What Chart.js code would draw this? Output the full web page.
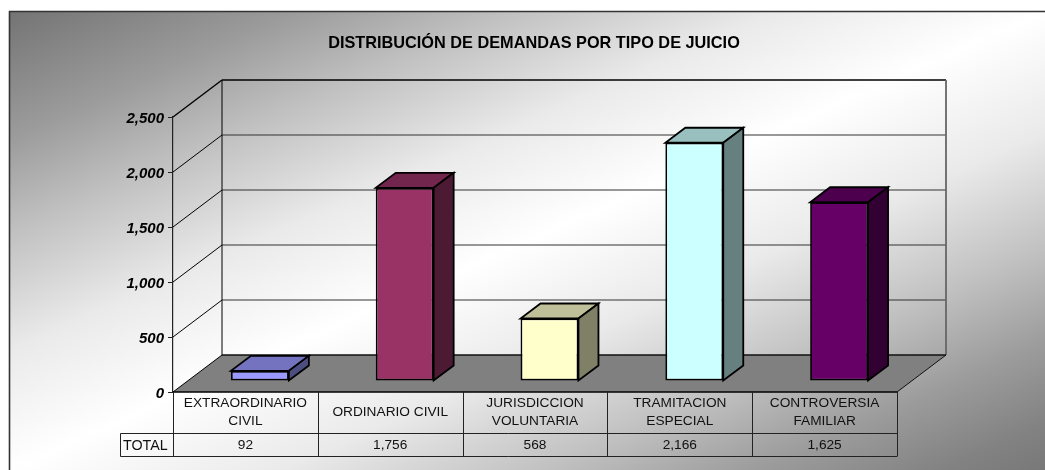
<!DOCTYPE html>
<html><head><meta charset="utf-8">
<style>html,body{margin:0;padding:0;background:#fff}canvas{display:block}</style>
<script src="https://cdn.jsdelivr.net/npm/chart.js@4/dist/chart.umd.min.js"></script>
</head><body><canvas id="c" width="1045" height="470"></canvas>
<script>
const categories = [["EXTRAORDINARIO","CIVIL"],"ORDINARIO CIVIL",["JURISDICCION","VOLUNTARIA"],["TRAMITACION","ESPECIAL"],["CONTROVERSIA","FAMILIAR"]];
const totals = [92,1756,568,2166,1625];
const seriesName = "TOTAL";
const titleText = "DISTRIBUCIÓN DE DEMANDAS POR TIPO DE JUICIO";
const barColors = ["#9999FF","#993366","#FFFFCC","#CCFFFF","#660066"];

const fmt = v => Number(v).toLocaleString('en-US');
const shade = (hex,f) => {
  const n = parseInt(hex.slice(1),16);
  return `rgb(${Math.round((n>>16&255)*f)},${Math.round((n>>8&255)*f)},${Math.round((n&255)*f)})`;
};
const WALL_DX = 49, WALL_DY = -37;   // depth of the box
const BAR_DX = 14.5, BAR_DY = -11;   // bars stand in the middle of the floor
const FACE_DX = 20, FACE_DY = -15;   // depth of a bar
const line = (ctx,pts,color,w) => {
  ctx.beginPath(); pts.forEach((p,i)=> i?ctx.lineTo(p[0],p[1]):ctx.moveTo(p[0],p[1]));
  ctx.strokeStyle=color; ctx.lineWidth=w; ctx.stroke();
};
const poly = (ctx,pts,fill,stroke,w) => {
  ctx.beginPath(); pts.forEach((p,i)=> i?ctx.lineTo(p[0],p[1]):ctx.moveTo(p[0],p[1]));
  ctx.closePath(); ctx.fillStyle=fill; ctx.fill();
  if(stroke){ctx.strokeStyle=stroke; ctx.lineWidth=w; ctx.lineJoin='miter'; ctx.stroke();}
};

const scene = {
  id:'scene',
  beforeDraw(chart){
    chart.titleBlock.left = 171;
    const ctx=chart.ctx, W=1045, H=470, L=10, T=12;
    ctx.save();
    ctx.fillStyle='#fff'; ctx.fillRect(0,0,W,H);
    const w=W-L, h=H-T, cx=L+w/2, cy=T+h/2, len=Math.hypot(w,h);
    const nx=h/len, ny=w/len, d=(w/2)*nx+(h/2)*ny;
    const g=ctx.createLinearGradient(cx-nx*d,cy-ny*d,cx+nx*d,cy+ny*d);
    [[0,'#747474'],[.14,'#9c9c9c'],[.24,'#c0c0c0'],[.37,'#eaeaea'],[.5,'#ffffff'],
     [.63,'#eaeaea'],[.76,'#c0c0c0'],[.86,'#9c9c9c'],[.95,'#828282'],[1,'#787878']]
      .forEach(s=>g.addColorStop(s[0],s[1]));
    ctx.fillStyle=g; ctx.fillRect(L,T,w,h);
    line(ctx,[[9.5,H],[9.5,11.5],[W,11.5]],'#333',1.6);
    ctx.restore();
  },
  beforeDatasetsDraw(chart){
    const ctx=chart.ctx, y=chart.scales.y, a=chart.chartArea;
    const l=a.left, r=a.right, y0=y.getPixelForValue(0), yt=y.getPixelForValue(2500);
    ctx.save();
    // floor
    poly(ctx,[[l,y0],[r,y0],[r+WALL_DX,y0+WALL_DY],[l+WALL_DX,y0+WALL_DY]],'#808080');
    line(ctx,[[r,y0],[r+WALL_DX,y0+WALL_DY]],'#111',1);
    // gridlines on the walls
    y.ticks.forEach(t=>{
      const p=y.getPixelForValue(t.value);
      line(ctx,[[l,p],[l+WALL_DX,p+WALL_DY]],'#000',t.value===2500?1.4:1);
      if(t.value>0&&t.value<2500) line(ctx,[[l+WALL_DX,p+WALL_DY],[r+WALL_DX,p+WALL_DY]],'#333',1.2);
    });
    line(ctx,[[l+WALL_DX,yt+WALL_DY],[r+WALL_DX,yt+WALL_DY]],'#000',1.4);
    line(ctx,[[r+WALL_DX,yt+WALL_DY],[r+WALL_DX,y0+WALL_DY]],'#666',1.8);
    line(ctx,[[l+WALL_DX,yt+WALL_DY],[l+WALL_DX,y0+WALL_DY]],'#000',1);
    line(ctx,[[l+WALL_DX,y0+WALL_DY],[r+WALL_DX,y0+WALL_DY]],'#111',1.3);
    line(ctx,[[l,y0],[r,y0]],'#000',1.6);
    ctx.restore();
    ctx.save();
    ctx.translate(BAR_DX,BAR_DY);
  },
  afterDatasetsDraw(chart){
    const ctx=chart.ctx;
    chart.getDatasetMeta(0).data.forEach((b,i)=>{
      const {x,y,width,base}=b.getProps(['x','y','width','base'],true);
      const lx=x-width/2, rx=x+width/2, c=barColors[i];
      poly(ctx,[[lx,y],[rx,y],[rx+FACE_DX,y+FACE_DY],[lx+FACE_DX,y+FACE_DY]],shade(c,.75),'#000',1.8);
      poly(ctx,[[rx,y],[rx,base],[rx+FACE_DX,base+FACE_DY],[rx+FACE_DX,y+FACE_DY]],shade(c,.5),'#000',1.8);
    });
    ctx.restore();
    // data table below the axis
    const x=chart.scales.x, a=chart.chartArea, y0=a.bottom, rowY=433.5, botY=456.5, leftX=120.5;
    ctx.save();
    const step=(a.right-a.left)/categories.length;
    for(let i=0;i<=categories.length;i++){
      const px=Math.round(x.getPixelForValue(0)-step/2+i*step)+.5;
      line(ctx,[[px,y0],[px,botY]],'#222',1);
    }
    line(ctx,[[leftX,rowY],[a.right,rowY]],'#222',1);
    line(ctx,[[leftX,botY],[a.right,botY]],'#222',1);
    line(ctx,[[leftX,rowY],[leftX,botY]],'#222',1);
    ctx.fillStyle='#111'; ctx.textBaseline='middle';
    ctx.font='14.3px "Liberation Sans", Arial, sans-serif';
    ctx.textAlign='left'; ctx.fillText(seriesName,123,446);
    ctx.font='13.7px "Liberation Sans", Arial, sans-serif';
    ctx.textAlign='center';
    totals.forEach((v,i)=>ctx.fillText(fmt(v),x.getPixelForValue(i),445.5));
    ctx.restore();
  }
};

new Chart(document.getElementById('c'),{
  type:'bar',
  data:{labels:categories,datasets:[{label:seriesName,data:totals,backgroundColor:barColors,borderColor:'#000',borderWidth:1.8,borderSkipped:false,
    categoryPercentage:1,barPercentage:0.4,clip:false}]},
  plugins:[scene],
  options:{
    responsive:false,animation:false,
    layout:{padding:{left:113,right:148,top:34,bottom:0}},
    plugins:{
      legend:{display:false},tooltip:{enabled:false},
      title:{display:true,text:titleText,color:'#000',align:'center',
        font:{family:'"Liberation Sans", Arial, sans-serif',size:16.3,weight:'bold',lineHeight:1.2},
        padding:{top:0,bottom:63.44}}
    },
    scales:{
      x:{grid:{display:false},border:{display:false},offset:true,
        afterFit(s){s.height=78;},
        ticks:{color:'#111',maxRotation:0,autoSkip:false,crossAlign:'center',padding:3.5,
          font:{family:'"Liberation Sans", Arial, sans-serif',size:13.7,lineHeight:1.3}}},
      y:{min:0,max:2500,
        afterFit(s){
          s.width=60;
          if(!s._shifted){
            s._shifted=true;
            const draw=s.drawLabels;
            s.drawLabels=function(a){
              const c=this.ctx; c.save(); c.translate(0,1.5); draw.call(this,a); c.restore();
            };
          }
        },
        grid:{drawOnChartArea:false,color:'#222',tickLength:5,tickColor:'#222'},
        border:{display:true,color:'#222',width:1.2},
        ticks:{stepSize:500,color:'#000',padding:4,callback:v=>fmt(v),
          font:{family:'"Liberation Sans", Arial, sans-serif',size:15,weight:'bold',style:'italic'}}}
    }
  }
});
</script></body></html>
